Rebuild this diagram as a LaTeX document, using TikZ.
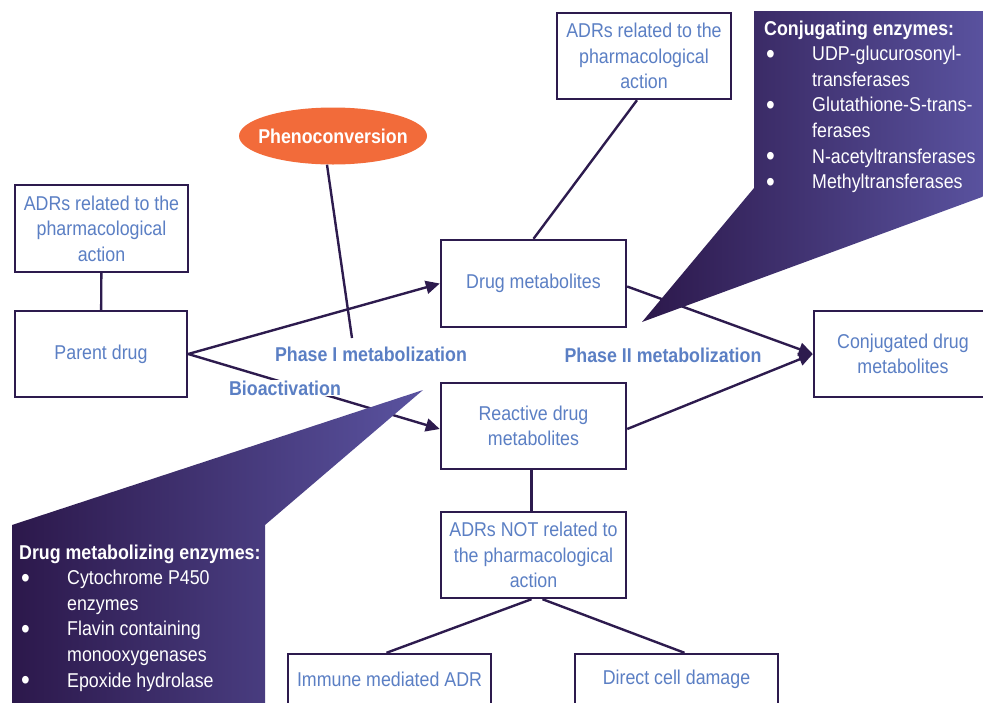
\documentclass[tikz,border=0pt]{standalone}
\usepackage{fontspec}
\setmainfont[FakeStretch=0.89]{Liberation Sans}
\usetikzlibrary{arrows.meta,shapes.geometric,calc}
\definecolor{dpurple}{HTML}{2D1B4E}
\definecolor{tblue}{HTML}{5B7FC4}
\definecolor{orng}{HTML}{F26B3A}
\definecolor{gdark}{HTML}{2C184B}
\definecolor{glight}{HTML}{5A53A0}
\newcommand{\bulletcell}{\makebox[48pt][l]{\hspace*{2pt}\raisebox{-2.5pt}{\scalebox{1.4}{•}}}}
\begin{document}
\begin{tikzpicture}[x=1pt,y=-1pt,
  box/.style={draw=dpurple,line width=2.4pt,fill=white,align=center,text=tblue,
    font=\fontsize{20}{25.5}\selectfont,inner sep=0pt},
  conn/.style={draw=dpurple,line width=2.4pt},
  arr/.style={conn,-{Triangle[length=14pt,width=13pt]}},
  lbl/.style={text=tblue,font=\fontsize{20}{25.5}\selectfont\bfseries,inner sep=1pt},
  ctext/.style={text=white,font=\fontsize{20}{25.6}\selectfont,inner sep=0pt,anchor=base west}]
\clip (0,0) rectangle (983,702);
% boxes
\node[box,minimum width=173pt,minimum height=87pt] (adrA) at (101.5,228.5) {ADRs related to the\\pharmacological\\action};
\node[box,minimum width=172pt,minimum height=86pt] (parent) at (101,354) {Parent drug};
\node[box,minimum width=185pt,minimum height=87pt] (dmet) at (533.5,283.5) {Drug metabolites};
\node[box,minimum width=185pt,minimum height=86pt] (rmet) at (533.5,426) {Reactive drug\\metabolites};
\node[box,minimum width=174pt,minimum height=86pt] (adrB) at (644,56) {ADRs related to the\\pharmacological\\action};
\node[box,minimum width=178pt,minimum height=86pt] (conj) at (903,354) {Conjugated drug\\metabolites};
\node[box,minimum width=185pt,minimum height=86pt] (adrnot) at (533.5,555) {ADRs NOT related to\\the pharmacological\\action};
\node[box,minimum width=203pt,minimum height=50pt] (imm) at (389.5,679) {Immune mediated ADR};
\node[box,minimum width=203pt,minimum height=50pt] (direct) at (676.5,679) {Direct cell damage};
% ellipse
\node[ellipse,fill=orng,minimum width=188pt,minimum height=57pt,inner sep=0pt,text=white,
  font=\fontsize{20}{24}\selectfont\bfseries] (phen) at (333,136) {\makebox[60pt]{Phenoconversion}};
\coordinate (phend) at (352,338);
% connectors
\draw[conn] (adrA) -- (parent);
\draw[conn] ($(adrB.south)+(-7,0)$) -- (dmet.north);
\draw[conn] ($(rmet.south)+(-2,0)$) -- ($(adrnot.north)+(-2,0)$);
\draw[conn] ($(adrnot.south)+(-2,0)$) -- ($(imm.north)+(-3,0)$);
\draw[conn] ($(adrnot.south)+(9,0)$) -- ($(direct.north)+(8,0)$);
\draw[conn] ($(phen.south)+(-6,0)$) -- (phend);
\draw[arr] (parent.east) -- (dmet.west);
\draw[arr] (parent.east) -- ($(rmet.west)+(0,3)$);
\draw[arr] ($(dmet.east)+(0,3)$) -- (conj.west);
\draw[arr] ($(rmet.east)+(0,3)$) -- (conj.west);
% labels
\node[lbl] (ph1lbl) at (371,354) {Phase I metabolization};
\node[lbl] (ph2lbl) at (663,355) {Phase II metabolization};
\node[lbl,fill=white] (bio) at (285,388) {Bioactivation};
% callouts
\shade[left color=gdark,right color=glight] (754,11) -- (990,11) -- (990,194) -- (642,322) -- (754,188) -- cycle;
\shade[left color=gdark,right color=glight] (12,525) -- (423,390) -- (265,525) -- (265,710) -- (12,710) -- cycle;
\node[ctext] (conjtxt) at (764,35) {\begin{tabular}[t]{@{}l@{}l@{}}
\multicolumn{2}{@{}l@{}}{\bfseries Conjugating enzymes:}\\
\bulletcell & UDP-glucurosonyl-\\
 & transferases\\
\bulletcell & Glutathione-S-trans-\\
 & ferases\\
\bulletcell & N-acetyltransferases\\
\bulletcell & Methyltransferases
\end{tabular}};
\node[ctext] (dmetxt) at (19,559) {\begin{tabular}[t]{@{}l@{}l@{}}
\multicolumn{2}{@{}l@{}}{\bfseries Drug metabolizing enzymes:}\\
\bulletcell & Cytochrome P450\\
 & enzymes\\
\bulletcell & Flavin containing\\
 & monooxygenases\\
\bulletcell & Epoxide hydrolase
\end{tabular}};
\end{tikzpicture}
\end{document}
